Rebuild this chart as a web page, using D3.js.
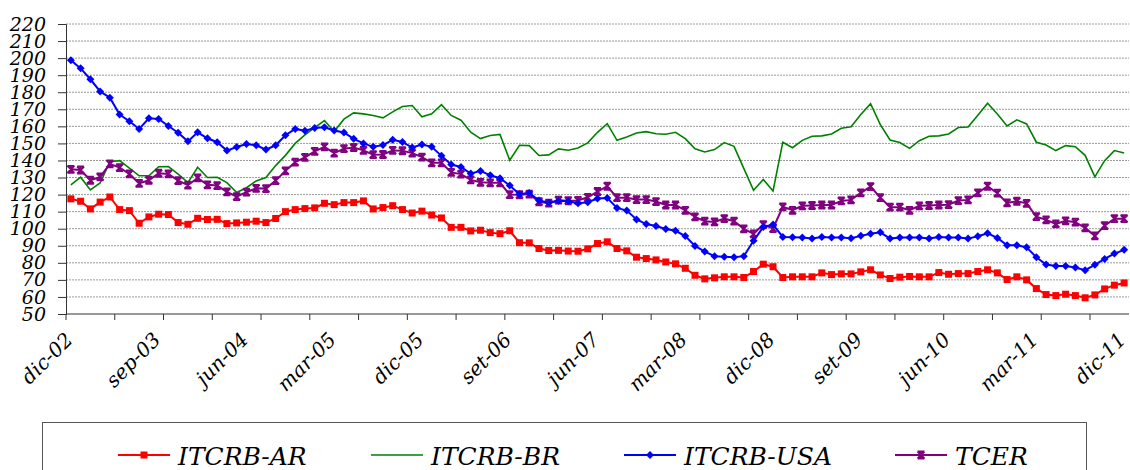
<!DOCTYPE html>
<html>
<head>
<meta charset="utf-8">
<title>ITCRB</title>
<style type="text/css">
    body{ margin:0px; padding:0px; background:#fff; }
    svg{ display:block; }
</style>
<script src="https://d3js.org/d3.v7.min.js"></script>
</head>
<body>
<script type="text/javascript">
// monthly, dic-02 .. dic-11 (109 months)
var tickLabels = ["dic-02","sep-03","jun-04","mar-05","dic-05","set-06","jun-07","mar-08","dic-08","set-09","jun-10","mar-11","dic-11"];
var yTicks = d3.range(50, 221, 10);

var itcrbAR = [117.5,116.1,111.6,115.6,118.6,111.2,110.6,103.2,106.9,108.5,108.3,
    103.6,102.6,106.1,105.4,105.5,103.0,103.4,103.8,104.4,103.6,
    106.0,110.0,111.2,111.8,112.2,114.9,114.1,115.3,115.3,116.3,
    111.6,112.4,113.5,111.2,109.2,110.3,108.0,106.3,100.8,100.8,
    98.7,99.1,97.7,97.1,98.8,91.8,91.7,88.4,87.2,87.3,
    86.9,86.8,88.2,91.3,92.3,88.4,87.0,83.3,82.5,81.7,
    80.5,79.4,76.8,72.7,70.6,71.2,71.8,71.8,71.4,74.9,
    79.2,77.7,71.4,71.8,71.8,71.8,74.1,73.1,73.5,73.5,
    74.7,75.9,72.9,70.8,71.6,72.0,71.8,71.8,74.3,73.3,
    73.7,73.7,74.9,75.9,74.1,70.2,71.8,70.0,64.9,61.4,
    60.8,61.6,60.8,59.5,61.2,64.7,66.9,68.2];

var itcrbBR = [125.7,130.2,122.7,126.8,139.3,139.9,135.5,131.0,131.0,136.3,136.4,
    132.0,127.0,136.0,130.0,130.2,127.0,121.2,124.0,128.0,130.0,
    137.0,143.0,150.0,155.0,159.3,163.4,157.0,164.2,167.9,167.3,
    166.4,165.0,168.5,171.6,172.2,165.6,167.4,172.7,166.4,163.6,
    156.6,152.8,154.6,155.3,140.1,148.9,148.7,142.9,143.3,146.8,
    146.0,147.3,150.3,156.5,161.6,151.8,153.8,156.1,156.9,155.7,
    155.4,156.5,152.8,146.8,145.0,146.4,150.5,148.3,135.4,122.5,
    128.8,122.1,150.7,147.5,151.8,154.2,154.4,155.5,158.9,159.8,
    166.9,173.3,161.0,152.0,150.5,147.1,151.6,154.2,154.4,155.5,
    159.3,159.6,166.5,173.5,167.3,160.2,163.8,161.4,150.7,149.1,
    145.8,148.7,148.1,143.0,130.4,139.9,145.8,144.4];

var itcrbUSA = [198.7,194.0,187.6,180.5,176.8,166.9,163.0,158.5,164.7,164.3,160.2,
    156.3,151.2,156.5,153.0,150.7,145.8,147.9,149.7,148.9,146.4,
    148.9,154.8,158.5,157.4,159.0,159.5,157.6,156.4,152.7,150.0,
    148.0,149.0,152.1,150.8,147.6,149.4,148.0,142.7,137.6,136.2,
    132.3,133.9,131.3,129.6,125.3,120.2,121.0,116.5,115.2,116.4,
    116.1,114.9,115.5,117.7,118.0,112.2,110.6,105.4,102.7,101.6,
    99.8,98.8,95.7,89.9,86.6,83.9,83.5,83.3,83.9,92.9,
    101.0,102.4,95.2,95.0,94.8,94.2,95.2,94.8,94.8,94.4,
    95.8,97.1,97.9,94.2,94.8,94.8,94.8,94.2,95.2,94.8,
    94.8,94.2,95.6,97.3,94.6,90.3,90.3,89.1,83.3,79.0,
    78.2,78.2,77.3,75.7,78.8,82.3,85.4,87.6];

var tcer = [134.8,134.4,128.4,130.4,138.0,135.8,132.1,126.6,128.4,132.5,132.1,
    128.2,125.5,129.8,125.7,125.3,121.6,118.8,121.4,123.7,123.5,
    128.2,133.9,139.0,141.8,145.3,148.0,144.3,146.9,147.6,145.9,
    143.4,143.5,145.9,145.7,144.3,142.0,138.6,138.6,133.0,132.0,
    128.6,127.2,126.9,126.9,120.0,119.9,120.3,115.8,115.0,116.7,
    116.4,116.6,118.4,121.8,124.9,118.2,118.2,117.1,117.1,115.9,
    113.9,113.9,110.8,106.9,104.4,104.0,105.9,104.4,99.9,97.0,
    102.4,100.1,112.8,110.8,113.4,113.6,113.9,113.9,116.3,116.9,
    121.0,124.7,118.2,112.6,112.6,110.8,113.4,113.6,113.9,114.1,
    116.5,116.9,121.0,124.9,120.8,115.1,116.1,114.9,107.1,105.2,
    102.8,104.6,103.8,100.5,95.8,101.8,105.9,105.9];

var seriesNames = ["ITCRB-AR","ITCRB-BR","ITCRB-USA","TCER"];
var seriesColors = ["#ff0000","#008000","#0000ff","#800080"];
var seriesMarkers = ["square","none","diamond","star"];

var FONT = "'DejaVu Serif', 'Liberation Serif', serif";

window.onload = function(){
    var W = 1130, H = 470;
    var left = 66, top = 24, right = 1129, bottom = 314;
    var n = itcrbAR.length;

    var svg = d3.select("body").append("svg").attr("width", W).attr("height", H)
        .attr("font-family", FONT).attr("font-style", "italic");

    var x = d3.scaleBand().domain(d3.range(n)).range([left, right]).padding(0);
    var bw = x.bandwidth();
    var cx = function(i){ return x(i) + bw/2; };
    var y = d3.scaleLinear().domain([50, 220]).range([bottom, top]);

    // gridlines
    svg.append("g").selectAll("line").data(yTicks.slice(1)).enter().append("line")
        .attr("x1", left).attr("x2", right)
        .attr("y1", function(d){ return y(d); }).attr("y2", function(d){ return y(d); })
        .attr("stroke", "#9a9a9a").attr("stroke-width", 1).attr("stroke-dasharray", "2,1");

    // y axis
    var yAxis = svg.append("g").attr("transform", "translate(" + left + ",0)")
        .call(d3.axisLeft(y).tickValues(yTicks).tickSize(8).tickPadding(12))
        .attr("font-family", FONT).attr("font-size", 19);
    yAxis.select(".domain").attr("stroke", "#333");
    yAxis.selectAll(".tick line").attr("stroke", "#333");
    yAxis.selectAll(".tick text").attr("fill", "#000");

    // x axis
    var tickIdx = d3.range(0, n, 5);
    var xg = svg.append("g");
    xg.append("line").attr("x1", left).attr("x2", right).attr("y1", bottom).attr("y2", bottom)
        .attr("stroke", "#333").attr("stroke-width", 1);
    xg.selectAll("line.tk").data(tickIdx).enter().append("line").attr("class", "tk")
        .attr("x1", function(i){ return x(i); }).attr("x2", function(i){ return x(i); })
        .attr("y1", bottom).attr("y2", bottom + 6).attr("stroke", "#333");
    xg.selectAll("text").data(tickLabels).enter().append("text")
        .attr("text-anchor", "end")
        .attr("transform", function(d, k){ return "translate(" + (cx(k*9) + 3) + "," + (bottom + 27) + ") rotate(-45)"; })
        .attr("font-size", 20)
        .text(function(d){ return d; });

    var allSeries = [itcrbAR, itcrbBR, itcrbUSA, tcer];
    var line = d3.line().x(function(d, i){ return cx(i); }).y(function(d){ return y(d); });

    function drawMarker(g, type, color){
        if (type == "square"){
            g.append("rect").attr("x", -3.5).attr("y", -3.5).attr("width", 7).attr("height", 7).attr("fill", color);
        } else if (type == "diamond"){
            g.append("path").attr("d", "M0,-4L4,0L0,4L-4,0Z").attr("fill", color);
        } else if (type == "star"){
            g.append("path").attr("d", "M-3.5,-3.5L3.5,3.5M3.5,-3.5L-3.5,3.5M-3.5,-3.5L3.5,-3.5M-3.5,3.5L3.5,3.5M0,-3.5L0,3.5")
                .attr("stroke", color).attr("stroke-width", 1.8).attr("fill", "none");
        }
    }

    // draw order: green, purple, blue, red
    [1, 3, 2, 0].forEach(function(s){
        var g = svg.append("g");
        g.append("path").datum(allSeries[s]).attr("d", line)
            .attr("fill", "none").attr("stroke", seriesColors[s])
            .attr("stroke-width", s == 1 ? 1.6 : 2);
        if (seriesMarkers[s] != "none"){
            g.selectAll("g.m").data(allSeries[s]).enter().append("g").attr("class", "m")
                .attr("transform", function(d, i){ return "translate(" + cx(i) + "," + y(d) + ")"; })
                .each(function(){ drawMarker(d3.select(this), seriesMarkers[s], seriesColors[s]); });
        }
    });

    // legend
    var lg = svg.append("g");
    lg.append("rect").attr("x", 42.5).attr("y", 422.5).attr("width", 1044).attr("height", 80)
        .attr("fill", "#fff").attr("stroke", "#555").attr("stroke-width", 1);
    var legX = [118, 371, 624, 895];
    seriesNames.forEach(function(name, s){
        var it = lg.append("g").attr("transform", "translate(" + legX[s] + ",455)");
        it.append("line").attr("x1", 0).attr("x2", 52).attr("y1", 0).attr("y2", 0)
            .attr("stroke", seriesColors[s]).attr("stroke-width", s == 1 ? 1.6 : 2);
        if (seriesMarkers[s] != "none"){
            drawMarker(it.append("g").attr("transform", "translate(26,0)"), seriesMarkers[s], seriesColors[s]);
        }
        it.append("text").attr("x", 60).attr("y", 10).attr("font-size", 25).text(name);
    });
};
</script>
</body>
</html>
